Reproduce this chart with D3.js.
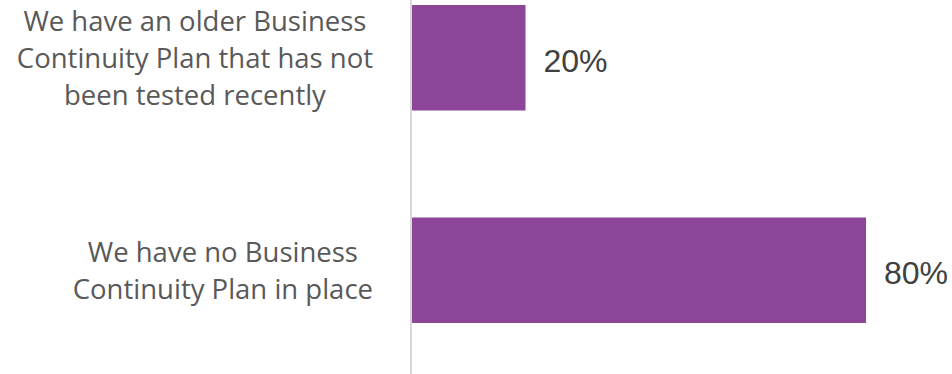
<!DOCTYPE html>
<html>
<head>
<meta charset="utf-8">
<script src="https://cdn.jsdelivr.net/npm/d3@7"></script>
<style>
  html, body { margin: 0; padding: 0; background: #ffffff; }
  svg { display: block; }
</style>
</head>
<body>
<svg id="chart" width="952" height="374"></svg>
<script>
// Survey answers, top to bottom, with each line break of the category label
const categories = [
  ["We have an older Business", "Continuity Plan that has not", "been tested recently"],
  ["We have no Business", "Continuity Plan in place"]
];
const values = [20, 80];
const valueLabels = ["20%", "80%"];

const W = 952, H = 374;
const svg = d3.select("#chart");

const x = d3.scaleLinear().domain([0, 100]).range([412, 979.5]);
const y = d3.scaleBand()
  .domain(d3.range(categories.length))
  .range([-48.1, 376.1])
  .paddingInner(0.5035)
  .paddingOuter(0.25);

// vertical category axis line
svg.append("line")
  .attr("x1", x(0) - 1).attr("x2", x(0) - 1)
  .attr("y1", 0).attr("y2", H)
  .attr("stroke", "#d9d9d9")
  .attr("stroke-width", 2);

// bars
svg.selectAll("rect.bar")
  .data(values)
  .join("rect")
  .attr("class", "bar")
  .attr("x", x(0))
  .attr("y", (d, i) => y(i))
  .attr("width", d => x(d) - x(0))
  .attr("height", y.bandwidth())
  .attr("fill", "#8b4599");

// value labels
svg.selectAll("text.value")
  .data(values)
  .join("text")
  .attr("class", "value")
  .attr("x", d => x(d) + 18)
  .attr("y", (d, i) => y(i) + y.bandwidth() / 2 + 14)
  .attr("font-family", "'Liberation Sans', Arial, sans-serif")
  .attr("font-size", 32)
  .attr("fill", "#404040")
  .text((d, i) => valueLabels[i]);

// category labels: lines centred within a block whose right edge is fixed
const labelRight = x(0) - 39;
const lineH = 37;
categories.forEach((lines, i) => {
  const g = svg.append("g");
  const texts = g.selectAll("text")
    .data(lines)
    .join("text")
    .attr("font-family", "'Open Sans', sans-serif")
    .attr("font-size", 27.5)
    .attr("fill", "#595959")
    .attr("text-anchor", "middle")
    .text(d => d);
  const maxW = d3.max(texts.nodes(), n => n.getComputedTextLength());
  const cx = labelRight - maxW / 2;
  const cy = y(i) + y.bandwidth() / 2;
  const firstBase = cy - (lines.length - 1) * lineH / 2 + 10;
  texts.attr("x", cx).attr("y", (d, j) => firstBase + j * lineH);
});
</script>
</body>
</html>
